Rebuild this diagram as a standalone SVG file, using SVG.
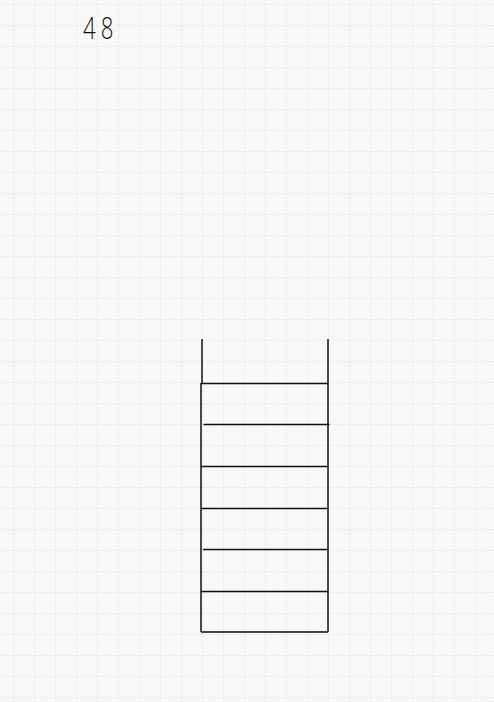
<svg xmlns="http://www.w3.org/2000/svg" width="494" height="702" viewBox="0 0 494 702">
<defs>
<pattern id="grid" x="13" y="4" width="21" height="21" patternUnits="userSpaceOnUse">
<path d="M0 0V21M0 0H21" fill="none" stroke="#dedede" stroke-width="1" stroke-dasharray="3 1"/>
</pattern>
<style>
.rail{stroke:#111;stroke-width:1.5;fill:none}
.rung{stroke:#111;stroke-width:1.5;fill:none}
.num{font-family:"Open Sans","Liberation Sans",sans-serif;font-weight:300;font-size:31px;fill:#111}
</style>
</defs>
<rect width="494" height="702" fill="#f8f8f8"/>
<rect width="494" height="702" fill="url(#grid)"/>
<g id="label">
<text class="num" x="0" y="39" transform="translate(83 0) scale(0.72 1)" letter-spacing="7">48</text>
</g>
<g id="ladder">
<path class="rail" d="M202 339V383"/>
<path class="rail" d="M201 383V632" stroke="#555" stroke-width="2"/>
<path class="rail" d="M328 339V632"/>
<g class="rung">
<path d="M201 383.5H328"/>
<path d="M203.5 424.5H329.5"/>
<path d="M201 466.5H328"/>
<path d="M201 508.5H328"/>
<path d="M203 549.5H328"/>
<path d="M201 591.5H328"/>
<path d="M201 632H328" stroke="#444" stroke-width="2"/>
</g>
</g>
</svg>
